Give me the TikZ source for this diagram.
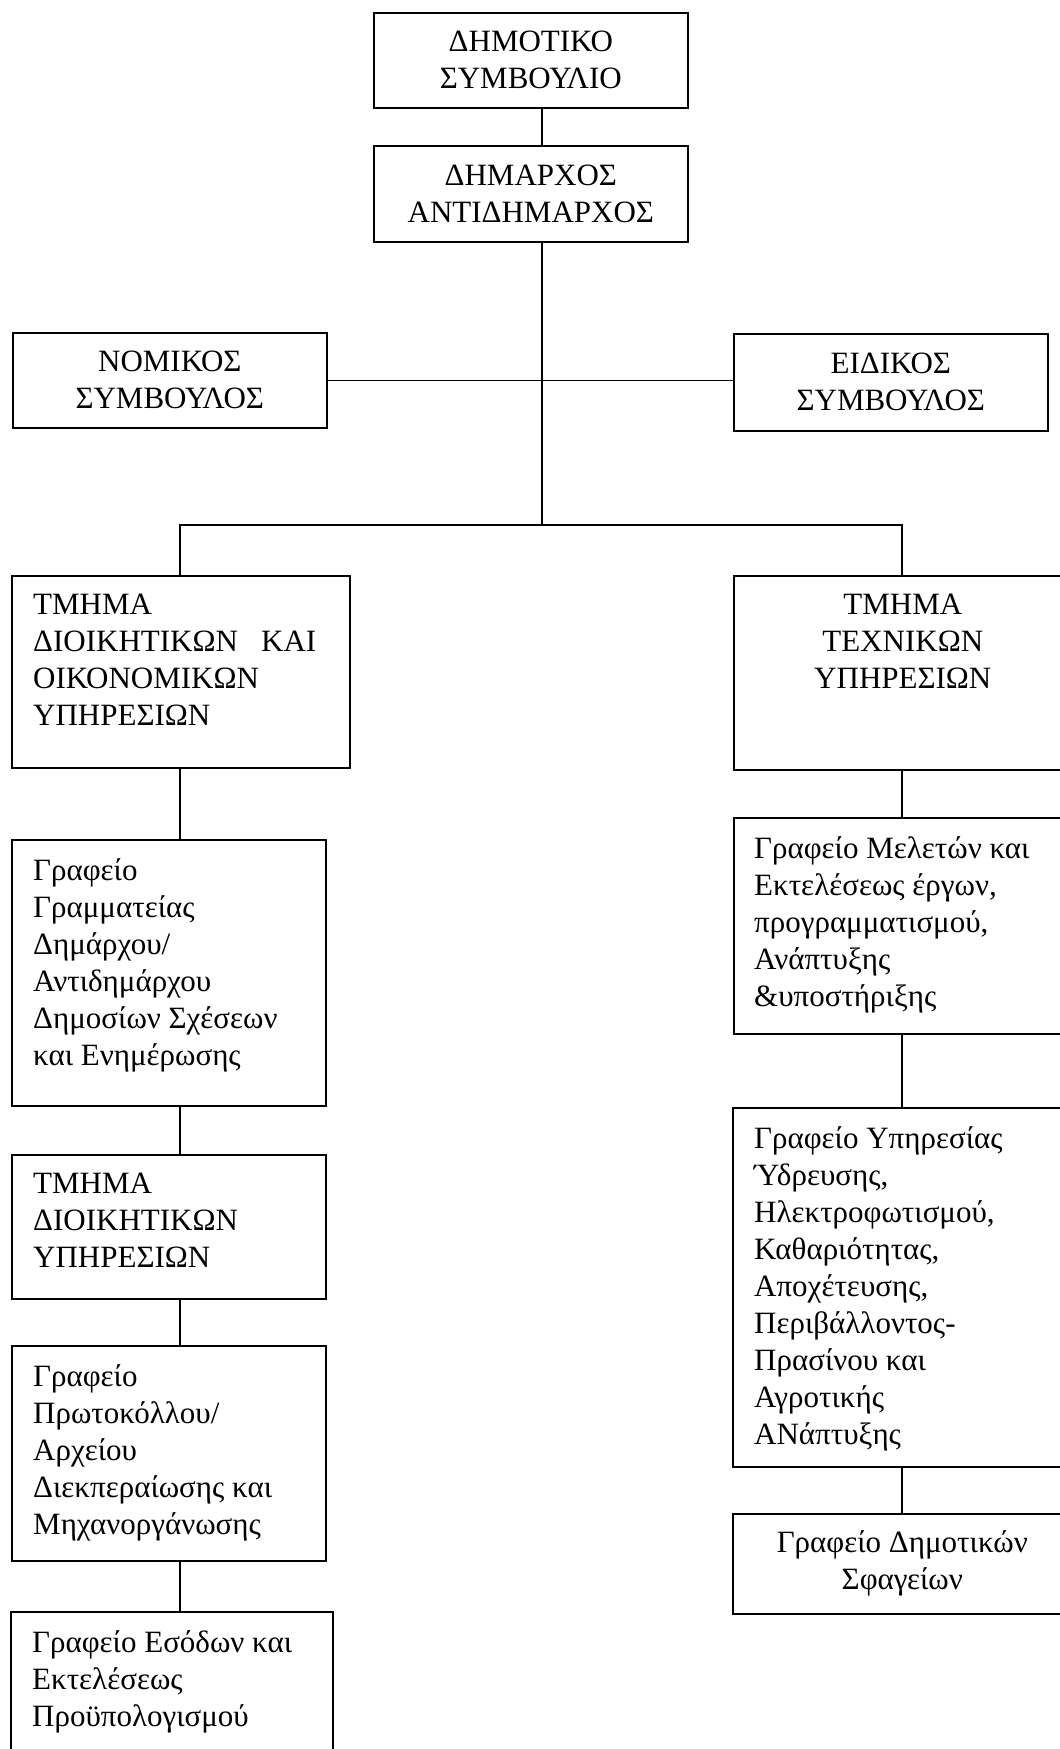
\documentclass[tikz,border=0pt]{standalone}
\usepackage{fontspec}
\setmainfont{Liberation Serif}
\begin{document}
\begin{tikzpicture}[x=1pt,y=-1pt,
  box/.style={draw, line width=1.6pt, inner sep=0pt, anchor=north west,
    align=center, font=\fontsize{31}{37}\selectfont},
  txt/.style={inner sep=0pt, align=left, font=\fontsize{31}{37}\selectfont},
  ctxt/.style={inner sep=0pt, align=center, font=\fontsize{31}{37}\selectfont},
  link/.style={line width=1.6pt}]
\fill[white] (0,0) rectangle (1060,1749);
\useasboundingbox (0,0) rectangle (1060,1749);

% column guides for the connectors
\coordinate (spine) at (542,0);
\coordinate (leftcol) at (180,0);
\coordinate (rightcol) at (902,0);

% top of the hierarchy
\node[box, minimum width=314pt, minimum height=95pt] (council) at (373,12)
  {ΔΗΜΟΤΙΚΟ\\ΣΥΜΒΟΥΛΙΟ};
\node[box, minimum width=314pt, minimum height=96pt] (mayor) at (373,145)
  {ΔΗΜΑΡΧΟΣ\\ΑΝΤΙΔΗΜΑΡΧΟΣ};

% advisers
\node[box, minimum width=314pt, minimum height=95pt] (legal) at (12,332)
  {ΝΟΜΙΚΟΣ\\ΣΥΜΒΟΥΛΟΣ};
\node[box, minimum width=314pt, minimum height=97pt] (special) at (733,333)
  {ΕΙΔΙΚΟΣ\\ΣΥΜΒΟΥΛΟΣ};

% departments
\node[box, minimum width=338pt, minimum height=192pt] (deptA) at (11,575) {};
\node[txt, anchor=north west] (deptAt) at ([xshift=22pt,yshift=-19pt]deptA.north west)
  {ΤΜΗΜΑ\\ΔΙΟΙΚΗΤΙΚΩΝ\hspace{0.5em} ΚΑΙ\\ΟΙΚΟΝΟΜΙΚΩΝ\\ΥΠΗΡΕΣΙΩΝ};
\node[box, minimum width=338pt, minimum height=194pt] (deptT) at (733,575) {};
\node[ctxt, anchor=north] (deptTt) at ([yshift=-19pt]deptT.north)
  {ΤΜΗΜΑ\\ΤΕΧΝΙΚΩΝ\\ΥΠΗΡΕΣΙΩΝ};

% left column offices
\node[box, minimum width=314pt, minimum height=266pt] (secr) at (11,839) {};
\node[txt, anchor=north west] (secrt) at ([xshift=22pt,yshift=-19pt]secr.north west)
  {Γραφείο\\Γραμματείας\\Δημάρχου/\\Αντιδημάρχου\\Δημοσίων Σχέσεων\\και Ενημέρωσης};
\node[box, minimum width=314pt, minimum height=144pt] (admin) at (11,1154) {};
\node[txt, anchor=north west] (admint) at ([xshift=22pt,yshift=-19pt]admin.north west)
  {ΤΜΗΜΑ\\ΔΙΟΙΚΗΤΙΚΩΝ\\ΥΠΗΡΕΣΙΩΝ};
\node[box, minimum width=314pt, minimum height=215pt] (proto) at (11,1345) {};
\node[txt, anchor=north west] (protot) at ([xshift=22pt,yshift=-19pt]proto.north west)
  {Γραφείο\\Πρωτοκόλλου/\\Αρχείου\\Διεκπεραίωσης και\\Μηχανοργάνωσης};
\node[box, minimum width=322pt, minimum height=160pt] (revenue) at (10,1611) {};
\node[txt, anchor=north west] (revenuet) at ([xshift=22pt,yshift=-19pt]revenue.north west)
  {Γραφείο Εσόδων και\\Εκτελέσεως\\Προϋπολογισμού};

% right column offices
\node[box, minimum width=338pt, minimum height=216pt] (studies) at (733,817) {};
\node[txt, anchor=north west] (studiest) at ([xshift=21pt,yshift=-19pt]studies.north west)
  {Γραφείο Μελετών και\\Εκτελέσεως έργων,\\προγραμματισμού,\\Ανάπτυξης\\\&υποστήριξης};
\node[box, minimum width=339pt, minimum height=359pt] (water) at (732,1107) {};
\node[txt, anchor=north west] (watert) at ([xshift=22pt,yshift=-19pt]water.north west)
  {Γραφείο Υπηρεσίας\\Ύδρευσης,\\Ηλεκτροφωτισμού,\\Καθαριότητας,\\Αποχέτευσης,\\Περιβάλλοντος-\\Πρασίνου και\\Αγροτικής\\ΑΝάπτυξης};
\node[box, minimum width=339pt, minimum height=100pt] (slaughter) at (732,1513)
  {Γραφείο Δημοτικών\\Σφαγείων};

% connectors
\draw[link] (council.south -| spine) -- (mayor.north -| spine);
\draw[link] (legal.east) -- (legal.east -| special.west);
\coordinate (branch) at (542,525);
\draw[link] (mayor.south -| spine) -- (branch);
\draw[link] (deptA.north -| leftcol) |- (branch) -| (deptT.north -| rightcol);
\draw[link] (deptA.south -| leftcol) -- (secr.north -| leftcol);
\draw[link] (secr.south -| leftcol) -- (admin.north -| leftcol);
\draw[link] (admin.south -| leftcol) -- (proto.north -| leftcol);
\draw[link] (proto.south -| leftcol) -- (revenue.north -| leftcol);
\draw[link] (deptT.south -| rightcol) -- (studies.north -| rightcol);
\draw[link] (studies.south -| rightcol) -- (water.north -| rightcol);
\draw[link] (water.south -| rightcol) -- (slaughter.north -| rightcol);
\end{tikzpicture}
\end{document}
